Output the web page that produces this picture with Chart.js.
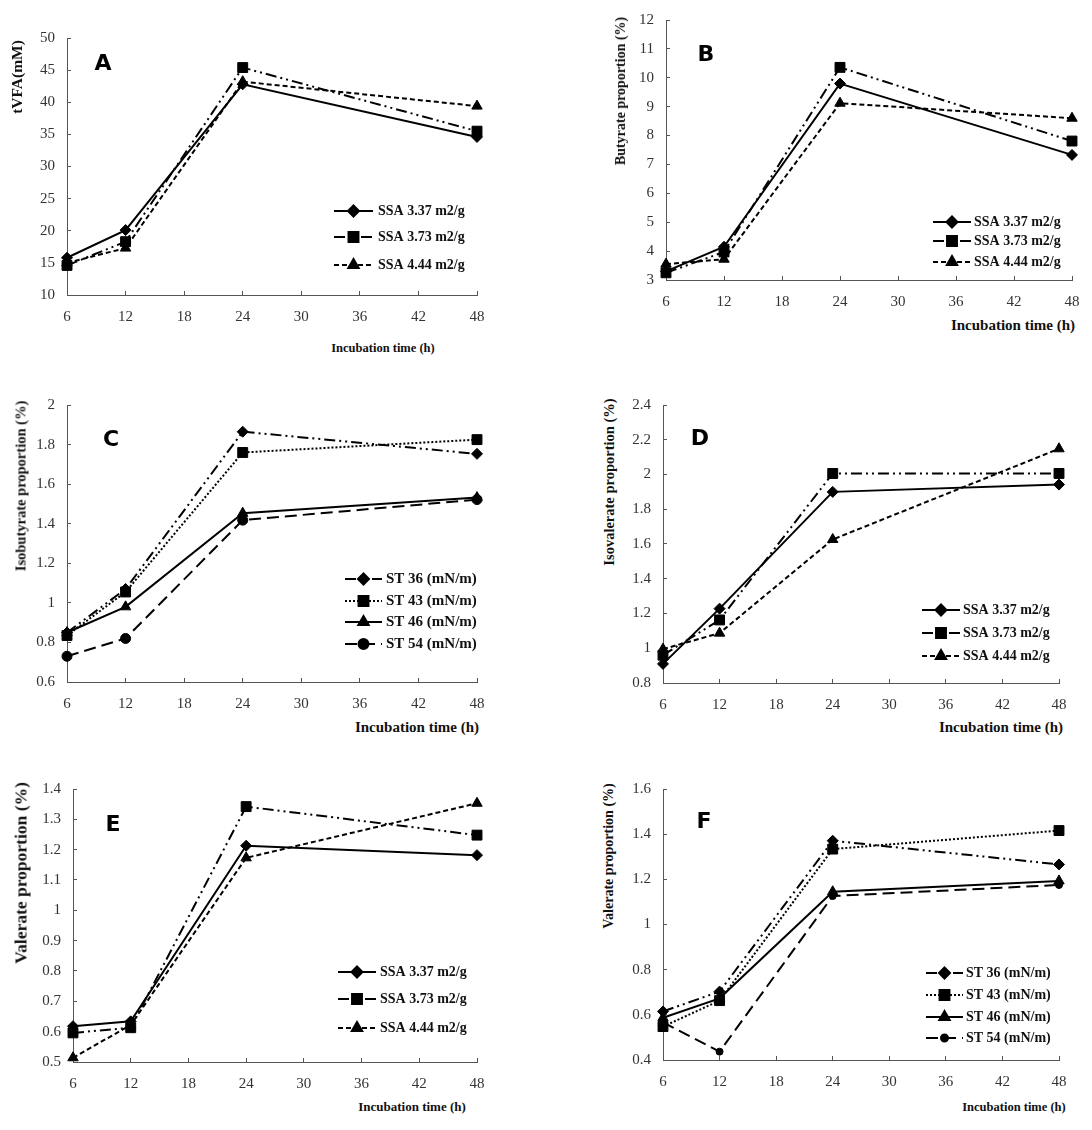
<!DOCTYPE html>
<html>
<head>
<meta charset="utf-8">
<script src="https://cdn.jsdelivr.net/npm/chart.js@4.4.1/dist/chart.umd.min.js"></script>
<style>
  html, body { margin: 0; padding: 0; background: #fff; }
  #page { position: relative; width: 1092px; height: 1130px; overflow: hidden; }
  canvas { position: absolute; }
  .txt { position: absolute; font-family: "Liberation Serif", "Times New Roman", serif; font-weight: bold; color: #111; white-space: nowrap; }
  .ytitle { transform: translate(-50%, -50%) rotate(-90deg); }
  .xtitle { transform: translate(-50%, -50%); }
  .letter { position: absolute; font-family: "DejaVu Sans", sans-serif; font-weight: bold; font-size: 22px; color: #000; transform: translate(-50%, -50%); }
</style>
</head>
<body>
<div id="page"></div>
<script>
  const hours = [6, 12, 24, 48];
  const xTicks = [6, 12, 18, 24, 30, 36, 42, 48];

  // A - tVFA (mM)
  const aSsa337 = [15.8, 20.1, 42.8, 34.6];
  const aSsa373 = [14.6, 18.3, 45.4, 35.5];
  const aSsa444 = [15.0, 17.3, 43.2, 39.4];
  // B - butyrate (%)
  const bSsa337 = [3.3, 4.15, 9.8, 7.33];
  const bSsa373 = [3.25, 3.97, 10.36, 7.81];
  const bSsa444 = [3.55, 3.72, 9.12, 8.6];
  // C - isobutyrate (%)
  const cSt36 = [0.85, 1.07, 1.865, 1.753];
  const cSt43 = [0.835, 1.055, 1.76, 1.825];
  const cSt46 = [0.85, 0.98, 1.453, 1.532];
  const cSt54 = [0.73, 0.82, 1.418, 1.522];
  // D - isovalerate (%)
  const dSsa337 = [0.91, 1.228, 1.9, 1.942];
  const dSsa373 = [0.96, 1.163, 2.006, 2.006];
  const dSsa444 = [0.995, 1.087, 1.626, 2.148];
  // E - valerate (%)
  const eSsa337 = [0.618, 0.634, 1.213, 1.182];
  const eSsa373 = [0.596, 0.613, 1.342, 1.248];
  const eSsa444 = [0.514, 0.622, 1.173, 1.353];
  // F - valerate (%)
  const fSt36 = [0.615, 0.703, 1.371, 1.266];
  const fSt43 = [0.548, 0.663, 1.334, 1.416];
  const fSt46 = [0.587, 0.673, 1.145, 1.193];
  const fSt54 = [0.567, 0.437, 1.126, 1.175];

  const ssaLabels = ['SSA 3.37 m2/g', 'SSA 3.73 m2/g', 'SSA 4.44 m2/g'];
  const stLabels = ['ST 36 (mN/m)', 'ST 43 (mN/m)', 'ST 46 (mN/m)', 'ST 54 (mN/m)'];

  const SOLID = [], DASHDOT = [11, 4, 2, 4, 2, 4], DASHED = [5, 3], DOTTED = [2, 2], LONGDASH = [12, 6];
  const diamond = { pointStyle: 'rectRot', pointRadius: 5.5 };
  const square = { pointStyle: 'rect', pointRadius: 7 };
  const triangle = { pointStyle: 'triangle', pointRadius: 6 };
  const circle = { pointStyle: 'circle', pointRadius: 5 };
  const smallCircle = { pointStyle: 'circle', pointRadius: 3.5 };

  const page = document.getElementById('page');
  const PADL = 45, PADT = 12, PADR = 14, PADB = 32;
  const tickFont = { family: '"Liberation Serif", serif', size: 15 };

  // legend drawn inside the plot, Excel style: line sample with marker in the middle
  const sketchLegend = {
    id: 'sketchLegend',
    afterDraw(chart, args, opts) {
      const ctx = chart.ctx;
      ctx.save();
      chart.data.datasets.forEach((ds, i) => {
        const y = opts.rows[i];
        ctx.strokeStyle = '#000';
        ctx.lineWidth = 2;
        ctx.setLineDash(ds.borderDash || []);
        ctx.beginPath();
        ctx.moveTo(opts.x1, y);
        ctx.lineTo(opts.x2, y);
        ctx.stroke();
        ctx.setLineDash([]);
        ctx.fillStyle = '#000';
        Chart.helpers.drawPoint(ctx, {
          pointStyle: ds.pointStyle, radius: ds.pointRadius, rotation: 0, borderWidth: 1
        }, (opts.x1 + opts.x2) / 2, y);
        ctx.fillStyle = '#111';
        ctx.font = 'bold ' + opts.size + 'px "Liberation Serif", serif';
        ctx.textBaseline = 'middle';
        ctx.fillText(ds.label, opts.tx, y);
      });
      ctx.restore();
    }
  };

  function fmt(v) { return String(parseFloat(v.toFixed(2))); }

  function addText(cls, text, x, y, size) {
    const d = document.createElement('div');
    d.className = cls;
    d.textContent = text;
    d.style.left = x + 'px';
    d.style.top = y + 'px';
    if (size) d.style.fontSize = size + 'px';
    page.appendChild(d);
  }

  function makePanel(p) {
    const cv = document.createElement('canvas');
    const left = p.area[0] - PADL, top = p.area[1] - PADT;
    const w = p.area[2] - p.area[0] + PADL + PADR;
    const h = p.area[3] - p.area[1] + PADT + PADB;
    const wrap = document.createElement('div');
    wrap.style.cssText = `position:absolute;left:${left}px;top:${top}px;width:${w}px;height:${h}px;`;
    cv.style.left = '0px';
    cv.style.top = '0px';
    cv.style.width = w + 'px';
    cv.style.height = h + 'px';
    wrap.appendChild(cv);
    page.appendChild(wrap);

    const datasets = p.series.map((s, i) => Object.assign({
      label: p.labels[i],
      data: hours.map((hr, k) => ({ x: hr, y: s.values[k] })),
      borderColor: '#000',
      backgroundColor: '#000',
      pointBackgroundColor: '#000',
      pointBorderColor: '#000',
      pointBorderWidth: 1,
      borderWidth: 2,
      borderDash: s.dash,
      tension: 0,
      clip: false
    }, s.marker));

    new Chart(cv, {
      type: 'line',
      data: { datasets },
      plugins: [sketchLegend],
      options: {
        responsive: false,
        animation: false,
        devicePixelRatio: 1,
        layout: { padding: { left: 0, top: PADT, right: PADR, bottom: 0 } },
        plugins: {
          legend: { display: false },
          tooltip: { enabled: false },
          sketchLegend: {
            x1: p.legend.x1 - left, x2: p.legend.x2 - left, tx: p.legend.tx - left,
            rows: p.legend.rows.map(r => r - top), size: p.legend.size
          }
        },
        scales: {
          x: {
            type: 'linear', min: 6, max: 48,
            afterFit: s => { s.height = PADB; s.paddingLeft = 0; s.paddingRight = 0; },
            afterBuildTicks: s => { s.ticks = xTicks.map(v => ({ value: v })); },
            grid: { drawOnChartArea: false, drawTicks: true, tickLength: -4, color: '#555' },
            border: { color: '#555', width: 1 },
            ticks: { padding: 17, color: '#333', font: tickFont }
          },
          y: {
            min: p.yMin, max: p.yMax,
            afterFit: s => { s.width = PADL; s.paddingTop = 0; s.paddingBottom = 0; },
            ticks: { stepSize: p.yStep, padding: 16, color: '#333', callback: fmt, font: tickFont },
            grid: { drawOnChartArea: false, drawTicks: true, tickLength: -4, color: '#555' },
            border: { color: '#555', width: 1 }
          }
        }
      }
    });

    addText('txt ytitle', p.yTitle[0], p.yTitle[1], p.yTitle[2], p.yTitle[3]);
    addText('txt xtitle', 'Incubation time (h)', p.xTitle[0], p.xTitle[1], p.xTitle[2]);
    addText('letter', p.letter[0], p.letter[1], p.letter[2]);
  }

  const ssaStyles = [
    { dash: SOLID, marker: diamond },
    { dash: DASHDOT, marker: square },
    { dash: DASHED, marker: triangle }
  ];

  makePanel({
    area: [67, 38, 477, 295], yMin: 10, yMax: 50, yStep: 5,
    labels: ssaLabels,
    series: [aSsa337, aSsa373, aSsa444].map((v, i) => Object.assign({ values: v }, ssaStyles[i])),
    legend: { x1: 334, x2: 373, tx: 378, rows: [211, 237, 265], size: 14 },
    yTitle: ['tVFA(mM)', 17, 77, 15.5], xTitle: [383, 348, 12.5], letter: ['A', 103, 62]
  });

  makePanel({
    area: [666, 20, 1072, 280], yMin: 3, yMax: 12, yStep: 1,
    labels: ssaLabels,
    series: [bSsa337, bSsa373, bSsa444].map((v, i) => Object.assign({ values: v }, ssaStyles[i])),
    legend: { x1: 933, x2: 971, tx: 974, rows: [222, 241, 262], size: 14 },
    yTitle: ['Butyrate proportion (%)', 621, 91, 14], xTitle: [1013, 325, 15], letter: ['B', 706, 53]
  });

  makePanel({
    area: [67, 405, 477, 682], yMin: 0.6, yMax: 2, yStep: 0.2,
    labels: stLabels,
    series: [
      { values: cSt36, dash: DASHDOT, marker: diamond },
      { values: cSt43, dash: DOTTED, marker: square },
      { values: cSt46, dash: SOLID, marker: triangle },
      { values: cSt54, dash: LONGDASH, marker: circle }
    ],
    legend: { x1: 345, x2: 382, tx: 386, rows: [579, 601, 622, 644], size: 15 },
    yTitle: ['Isobutyrate proportion (%)', 21, 486, 14.5], xTitle: [417, 727, 15], letter: ['C', 111, 438]
  });

  makePanel({
    area: [663, 405, 1059, 683], yMin: 0.8, yMax: 2.4, yStep: 0.2,
    labels: ssaLabels,
    series: [dSsa337, dSsa373, dSsa444].map((v, i) => Object.assign({ values: v }, ssaStyles[i])),
    legend: { x1: 922, x2: 960, tx: 963, rows: [610, 633, 656], size: 14 },
    yTitle: ['Isovalerate proportion (%)', 609, 482, 14.5], xTitle: [1001, 727, 15], letter: ['D', 700, 437]
  });

  makePanel({
    area: [73, 789, 477, 1062], yMin: 0.5, yMax: 1.4, yStep: 0.1,
    labels: ssaLabels,
    series: [eSsa337, eSsa373, eSsa444].map((v, i) => Object.assign({ values: v }, ssaStyles[i])),
    legend: { x1: 338, x2: 376, tx: 380, rows: [972, 999, 1028], size: 14 },
    yTitle: ['Valerate proportion (%)', 21, 873, 17.5], xTitle: [412, 1107, 13], letter: ['E', 113, 823]
  });

  makePanel({
    area: [663, 789, 1059, 1060], yMin: 0.4, yMax: 1.6, yStep: 0.2,
    labels: stLabels,
    series: [
      { values: fSt36, dash: DASHDOT, marker: diamond },
      { values: fSt43, dash: DOTTED, marker: square },
      { values: fSt46, dash: SOLID, marker: triangle },
      { values: fSt54, dash: LONGDASH, marker: smallCircle }
    ],
    legend: { x1: 926, x2: 963, tx: 966, rows: [973, 995, 1017, 1038], size: 14 },
    yTitle: ['Valerate proportion (%)', 609, 856, 14], xTitle: [1014, 1107, 12.5], letter: ['F', 704, 820]
  });
</script>
</body>
</html>
